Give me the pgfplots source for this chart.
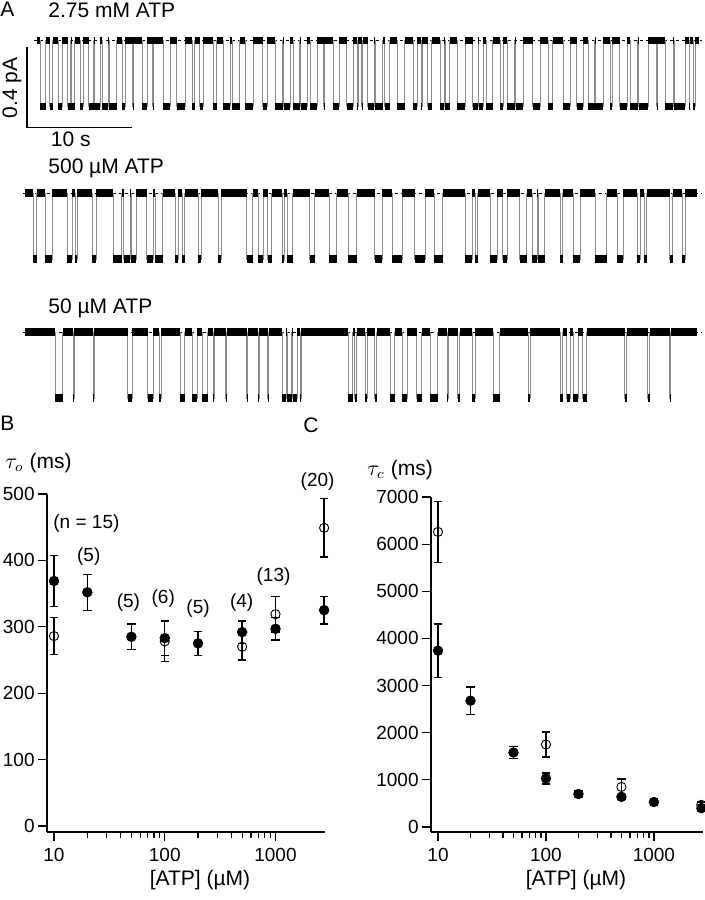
\documentclass[border=0pt]{standalone}
\usepackage{fontspec}
\setmainfont{Liberation Sans}
\usepackage{pgfplots}
\usepackage{pgfplotstable}
\pgfplotsset{compat=1.18}

% single-channel records: time (s), current (pA); 0 = closed, -0.33 = open
\pgfplotstableread{
t I
0.2 0
0.5 -0.33
1.0 0
1.4 -0.33
1.7 0
2.2 -0.33
2.6 0
3.1 -0.33
3.4 0
3.45 -0.33
3.8 0
4.3 -0.33
4.6 0
5.1 -0.33
5.6 0
5.65 -0.33
6.2 0
6.4 -0.33
7.0 0
7.05 -0.33
7.8 0
8.3 -0.33
8.6 0
9.3 -0.33
9.36 0
10.2 -0.33
10.7 0
11.2 -0.33
11.26 0
12.2 -0.33
12.9 0
13.5 -0.33
14.3 0
15.0 -0.33
15.2 0
15.7 -0.33
16.0 0
17.0 -0.33
17.3 0
17.9 -0.33
18.6 0
18.8 -0.33
19.5 0
20.0 -0.33
20.8 0
21.7 -0.33
22.1 0
22.9 -0.33
23.6 0
23.7 -0.33
24.3 0
24.6 -0.33
25.2 0
25.3 -0.33
25.9 0
26.2 -0.33
26.9 0
27.5 -0.33
27.56 0
28.4 -0.33
29.0 0
29.7 -0.33
30.3 0
30.7 -0.33
30.8 0
31.1 -0.33
31.2 0
31.7 -0.33
32.3 0
32.4 -0.33
33.1 0
33.3 -0.33
33.8 0
34.5 -0.33
35.2 0
36.0 -0.33
36.4 0
36.8 -0.33
36.86 0
37.4 -0.33
37.8 0
38.6 -0.33
39.0 0
39.05 -0.33
39.5 0
40.2 -0.33
41.0 0
41.7 -0.33
42.2 0
42.25 -0.33
42.7 0
43.0 -0.33
43.6 0
44.3 -0.33
44.6 0
45.0 -0.33
45.7 0
45.8 -0.33
46.5 0
47.4 -0.33
48.1 0
48.9 -0.33
49.3 0
50.3 -0.33
51.0 0
51.6 -0.33
52.2 0
52.7 -0.33
53.3 0
53.35 -0.33
54.1 0
54.8 -0.33
55.0 0
55.7 -0.33
56.4 0
56.7 -0.33
57.4 0
57.5 -0.33
58.4 0
59.2 -0.33
59.26 0
60.0 -0.33
60.8 0
60.9 -0.33
61.9 0
62.3 -0.33
62.36 0
62.7 -0.33
62.9 0
63.2 0
}\tracea

\pgfplotstableread{
t I
0 0
0.8 -0.33
1.1 0
1.9 -0.33
2.6 0
4.0 -0.33
4.5 0
4.8 -0.33
5.0 0
6.4 -0.33
6.8 0
8.4 -0.33
9.2 0
9.4 -0.33
10.0 0
10.1 -0.33
10.6 0
11.6 -0.33
12.2 0
12.4 -0.33
13.1 0
14.3 -0.33
14.6 0
15.0 -0.33
15.2 0
16.5 -0.33
16.8 0
18.4 -0.33
18.7 0
21.1 -0.33
21.7 0
22.2 -0.33
22.7 0
23.1 -0.33
23.5 0
24.5 -0.33
24.7 0
25.0 -0.33
25.5 0
27.1 -0.33
27.6 0
29.0 -0.33
29.7 0
30.8 -0.33
31.6 0
33.3 -0.33
34.0 0
35.0 -0.33
35.9 0
37.1 -0.33
38.1 0
39.0 -0.33
39.8 0
41.9 -0.33
42.6 0
42.9 -0.33
43.1 0
44.3 -0.33
45.0 0
45.5 -0.33
45.9 0
47.1 -0.33
47.8 0
48.3 -0.33
48.8 0
48.9 -0.33
49.5 0
51.0 -0.33
51.2 0
52.2 -0.33
52.9 0
54.3 -0.33
55.4 0
56.4 -0.33
57.0 0
58.3 -0.33
58.6 0
59.0 -0.33
59.2 0
61.4 -0.33
61.7 0
62.6 -0.33
62.9 0
64.0 0
}\traceb

\pgfplotstableread{
t I
0 0
2.9 -0.33
3.6 0
4.57 -0.33
4.67 0
6.48 -0.33
6.57 0
9.8 -0.33
10.2 0
11.7 -0.33
12.2 0
12.8 -0.33
13.0 0
14.8 -0.33
15.2 0
15.9 -0.33
16.4 0
16.9 -0.33
17.4 0
17.9 -0.33
18.0 0
19.1 -0.33
19.2 0
21.1 -0.33
21.2 0
22.2 -0.33
22.3 0
23.1 -0.33
23.2 0
24.5 -0.33
24.9 0
25.0 -0.33
25.4 0
25.5 -0.33
25.9 0
26.2 -0.33
26.3 0
30.8 -0.33
31.2 0
31.4 -0.33
31.6 0
32.4 -0.33
32.6 0
33.3 -0.33
33.5 0
34.8 -0.33
35.2 0
35.9 -0.33
36.4 0
37.3 -0.33
37.8 0
38.6 -0.33
39.3 0
40.2 -0.33
40.3 0
41.2 -0.33
41.4 0
42.6 -0.33
42.9 0
44.6 -0.33
45.2 0
47.9 -0.33
48.1 0
51.0 -0.33
51.2 0
51.6 -0.33
51.9 0
52.2 -0.33
52.7 0
53.1 -0.33
53.5 0
57.1 -0.33
57.3 0
59.3 -0.33
59.5 0
61.4 -0.33
61.5 0
64.0 0
}\tracec

\pgfplotsset{
  trace/.style={scale only axis, hide axis, clip=false, ymin=-0.45, ymax=0.05,
    height=50pt, anchor=south west, xmin=0},
  transit/.style={const plot, black!45, line width=0.4pt},
  noise/.style={jump mark left, black, line width=3.6pt},
  base/.style={black, line width=0.4pt, dash pattern=on 1.5pt off 1.5pt},
  panel/.style={scale only axis, anchor=south west, clip=false,
    axis x line*=bottom, axis y line*=left,
    axis line style={line width=0.7pt},
    tick align=outside, major tick length=4.5pt, minor tick length=2.8pt,
    tick style={line width=0.6pt, black},
    xtick={10,100,1000}, xticklabels={10,100,1000},
    tick label style={font=\fontsize{9.5}{11}\selectfont},
    yticklabel style={inner sep=1.5pt},
    /pgf/number format/assume math mode=true,
    /pgf/number format/1000 sep={}},
  filledpts/.style={only marks, mark=*, black, mark size=2.4pt,
    error bars/.cd, y dir=both, y explicit,
    error bar style={line width=0.7pt, black},
    error mark options={rotate=90, mark size=2.1pt, line width=0.7pt, black}},
  openpts/.style={only marks, mark=o, black, mark size=2.3pt,
    mark options={line width=0.45pt},
    error bars/.cd, y dir=both, y explicit,
    error bar style={line width=0.7pt, black},
    error mark options={rotate=90, mark size=2.1pt, line width=0.7pt, black}},
}

\begin{document}
\begin{tikzpicture}
\useasboundingbox (0pt,0pt) rectangle (352.5pt,450pt);

% ---------- Panel A ----------
\begin{axis}[trace, at={(17.5pt,384.65pt)}, xmax=63.3, width=332.3pt]
\addplot[base] coordinates {(-0.1,0) (63.5,0)};
\addplot[transit] table[x=t,y=I] {\tracea};
\addplot[noise] table[x=t,y=I] {\tracea};
\draw[line width=0.6pt] (axis cs:-0.76,-0.03) -- (axis cs:-0.76,-0.435) -- (axis cs:9.24,-0.435);
\node[rotate=90, font=\fontsize{10.5}{12}\selectfont] at (axis cs:-2.2,-0.235) {0.4 pA};
\node[anchor=north, font=\fontsize{10.5}{12}\selectfont, inner sep=1pt] at (axis cs:3.4,-0.445) {10 s};
\end{axis}

\begin{axis}[trace, at={(12.5pt,308.5pt)}, xmax=64, width=336pt]
\addplot[base] coordinates {(-0.2,0) (64.4,0)};
\addplot[transit] table[x=t,y=I] {\traceb};
\addplot[noise] table[x=t,y=I] {\traceb};
\end{axis}

\begin{axis}[trace, at={(12.5pt,239pt)}, xmax=64, width=336pt]
\addplot[base] coordinates {(-0.2,0) (64.4,0)};
\addplot[transit] table[x=t,y=I] {\tracec};
\addplot[noise] table[x=t,y=I] {\tracec};
\end{axis}

\begin{scope}[font=\fontsize{10.5}{12}\selectfont]
\node[anchor=west, inner sep=0pt] at (0pt,445.5pt) {A};
\node[anchor=west, inner sep=0pt] at (24pt,445pt) {2.75 mM ATP};
\node[anchor=west, inner sep=0pt] at (24pt,366pt) {500 µM ATP};
\node[anchor=west, inner sep=0pt] at (24pt,296pt) {50 µM ATP};
\node[anchor=west, inner sep=0pt] at (0pt,238.5pt) {B};
\node[anchor=west, inner sep=0pt] at (151.5pt,237.5pt) {C};
\node[anchor=west, inner sep=0pt] at (2.5pt,218.5pt) {$\tau_o$ (ms)};
\node[anchor=west, inner sep=0pt] at (183.5pt,215pt) {$\tau_c$ (ms)};
\node[inner sep=0pt] at (100pt,10pt) {[ATP] (µM)};
\node[inner sep=0pt] at (288pt,10pt) {[ATP] (µM)};
\end{scope}

% ---------- Panel B ----------
\begin{semilogxaxis}[panel, at={(23.5pt,34pt)}, width=139pt, height=169pt,
  xmin=8.65, xmax=2800, ymin=-9, ymax=500, ytick={0,100,200,300,400,500}]
\addplot[openpts] coordinates {
 (10,286) +- (0,28)
 (100,278) +- (0,30)
 (500,270) +- (0,20)
 (1000,319) +- (0,27)
 (2750,449) +- (0,44)
};
\addplot[filledpts] coordinates {
 (10,369) +- (0,38)
 (20,352) +- (0,27)
 (50,285) +- (0,19)
 (100,283) +- (0,26)
 (200,275) +- (0,18)
 (500,292) +- (0,17)
 (1000,297) +- (0,17)
 (2750,325) +- (0,21)
};
\begin{scope}[font=\fontsize{9.5}{11}\selectfont]
\node[anchor=west, inner sep=0pt] at (axis cs:9.8,456) {(n = 15)};
\node at (axis cs:20.6,405) {(5)};
\node at (axis cs:47,337) {(5)};
\node at (axis cs:97,342) {(6)};
\node at (axis cs:200,328) {(5)};
\node at (axis cs:495,336) {(4)};
\node at (axis cs:960,375) {(13)};
\node at (axis cs:2400,518) {(20)};
\end{scope}
\end{semilogxaxis}

% ---------- Panel C ----------
\begin{semilogxaxis}[panel, at={(215.5pt,34pt)}, width=136pt, height=167.5pt,
  xmin=8.61, xmax=2850, ymin=-106, ymax=7000,
  ytick={0,1000,2000,3000,4000,5000,6000,7000}]
\addplot[openpts] coordinates {
 (10,6260) +- (0,650)
 (100,1750) +- (0,265)
 (500,850) +- (0,170)
 (2750,470) +- (0,60)
};
\addplot[filledpts] coordinates {
 (10,3740) +- (0,570)
 (20,2680) +- (0,290)
 (50,1580) +- (0,130)
 (100,1030) +- (0,115)
 (200,700) +- (0,80)
 (500,640) +- (0,50)
 (1000,530) +- (0,70)
 (2750,400) +- (0,60)
};
\end{semilogxaxis}
\end{tikzpicture}
\end{document}
